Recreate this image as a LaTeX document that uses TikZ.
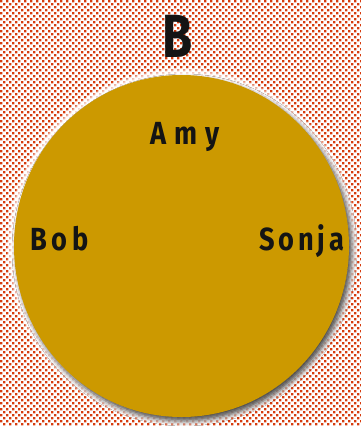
\documentclass[tikz,border=0pt]{standalone}
\usepackage{fontspec}
\setmainfont{Fira Sans}
\newfontfamily\labelfont[FakeStretch=0.85,LetterSpace=15]{Fira Sans Bold}
\newfontfamily\amyfont[FakeStretch=0.85,LetterSpace=25]{Fira Sans Bold}
\newfontfamily\sonjafont[FakeStretch=0.85,LetterSpace=12]{Fira Sans Bold}
\newfontfamily\titlefont[FakeStretch=0.8]{Fira Sans Bold}
\usetikzlibrary{shadows.blur}
\definecolor{dotc}{RGB}{214,60,14}
\definecolor{goldc}{RGB}{204,153,0}
\definecolor{inkc}{RGB}{20,20,20}
\tikzset{
  namelabel/.style={text=inkc, font=\labelfont\fontsize{32}{32}\selectfont, inner sep=0pt, anchor=base west},
  titlelabel/.style={text=inkc, font=\titlefont\fontsize{61}{61}\selectfont, inner sep=0pt, anchor=base},
}
\begin{document}
\begin{tikzpicture}[x=1pt,y=-1pt]
\useasboundingbox (0,0) rectangle (361,426);
\fill[white] (0,0) rectangle (361,426);
\foreach \r in {0,...,142} {
  \pgfmathsetmacro{\xo}{3*mod(\r,2)}
  \fill[dotc] \foreach \c in {0,...,60} {
    ({6*\c+\xo},{3*\r}) rectangle ++(2.4,2.4)
  };
}
% white halo
\foreach \i in {1,...,8} {
  \fill[white, opacity=0.25] (182.5,247) ellipse ({167.5+9-\i} and {171+9-\i});
}
% circle with grey shadow
\path[fill=goldc, blur shadow={shadow xshift=3pt, shadow yshift=-4pt, shadow blur radius=5pt, shadow opacity=70}]
  (181.5,246) ellipse (167.5 and 171);
\node[titlelabel] (title) at (178,57) {B};
\node[namelabel, font=\amyfont\fontsize{32}{32}\selectfont] (amy) at (150,144) {Amy};
\node[namelabel] (bob) at (30,250) {Bob};
\node[namelabel, font=\sonjafont\fontsize{32}{32}\selectfont] (sonja) at (259,250) {Sonja};
\end{tikzpicture}
\end{document}
